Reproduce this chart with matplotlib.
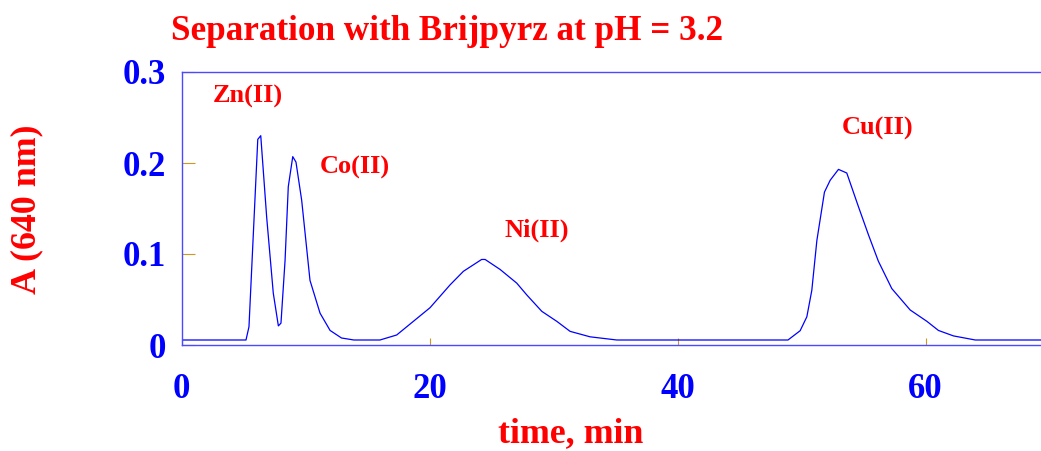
import matplotlib
matplotlib.use("Agg")
import matplotlib.pyplot as plt

time_min = [0, 5.2, 5.44, 6.15, 6.39, 6.87, 7.40, 7.81, 8.02, 8.35, 8.61, 8.97, 9.23,
            9.69, 10.36, 11.17, 11.98, 12.9, 13.9, 16.0, 17.35, 20.04, 21.65, 22.73,
            24.2, 24.48, 25.69, 27.03, 27.84, 29.05, 30.26, 31.33, 32.94, 35.1, 48.9,
            49.88, 50.42, 50.82, 51.23, 51.84, 52.3, 52.97, 53.64, 54.58, 55.39, 56.19,
            57.27, 58.75, 60.1, 61.03, 62.24, 64.0, 69.3]
absorbance = [0.0055, 0.0055, 0.020, 0.226, 0.230, 0.140, 0.057, 0.021, 0.024, 0.093,
              0.174, 0.207, 0.201, 0.159, 0.071, 0.035, 0.016, 0.0077, 0.0055, 0.0055,
              0.011, 0.041, 0.066, 0.081, 0.094, 0.094, 0.083, 0.068, 0.055, 0.037,
              0.026, 0.015, 0.009, 0.0055, 0.0055, 0.0157, 0.031, 0.060, 0.115, 0.168,
              0.181, 0.193, 0.189, 0.152, 0.121, 0.092, 0.062, 0.0385, 0.026, 0.016,
              0.010, 0.0055, 0.0055]

peak_labels = ["Zn(II)", "Co(II)", "Ni(II)", "Cu(II)"]
peak_label_x = [5.34, 13.95, 28.63, 56.13]
peak_label_y = [0.2735, 0.1955, 0.1265, 0.2375]

x_ticks = [0, 20, 40, 60]
y_ticks = [0, 0.1, 0.2, 0.3]
y_tick_labels = ["0", "0.1", "0.2", "0.3"]

title = "Separation with Brijpyrz at pH = 3.2"
x_label = "time, min"
y_label = "A (640 nm)"

plt.rcParams['font.family'] = ['Liberation Serif', 'DejaVu Serif']
plt.rcParams['font.weight'] = 'bold'

fig = plt.figure(figsize=(10.41, 4.51), dpi=100)
ax = fig.add_axes([181.5 / 1041, 1 - 345 / 451, 1 - 181.5 / 1041, (345 - 72) / 451])

ax.plot(time_min, absorbance, color='#0000ff', lw=0.9)
ax.set_xlim(0, 69.3)
ax.set_ylim(0, 0.3)

for s in ['left', 'top', 'bottom']:
    ax.spines[s].set_color('#4a4aff')
    ax.spines[s].set_linewidth(1.0)
ax.spines['right'].set_visible(False)

ax.set_xticks(x_ticks)
ax.set_yticks(y_ticks)
ax.set_yticklabels(y_tick_labels)
ax.tick_params(axis='x', direction='in', length=5, color='#cc9922', labelcolor='#0000ff',
               labelsize=25, pad=20)
ax.tick_params(axis='y', direction='in', length=9.5, color='#cc9922', labelcolor='#0000ff',
               labelsize=25, pad=11)
for lab in ax.get_xticklabels() + ax.get_yticklabels():
    lab.set_fontweight('bold')

for t, x, y in zip(peak_labels, peak_label_x, peak_label_y):
    ax.text(x, y, t, color='#ff0000', fontsize=19, fontweight='bold', ha='center', va='center')

fig.text(447 / 1041, 1 - 31 / 451, title, color='#ff0000', fontsize=25.3, fontweight='bold',
         ha='center', va='center')
fig.text(570.5 / 1041, 1 - 434 / 451, x_label, color='#ff0000', fontsize=25.8, fontweight='bold',
         ha='center', va='center')
fig.text(27 / 1041, 1 - 209 / 451, y_label, color='#ff0000', fontsize=25.8, fontweight='bold',
         ha='center', va='center', rotation=90)

fig.savefig("out.png", dpi=100)
